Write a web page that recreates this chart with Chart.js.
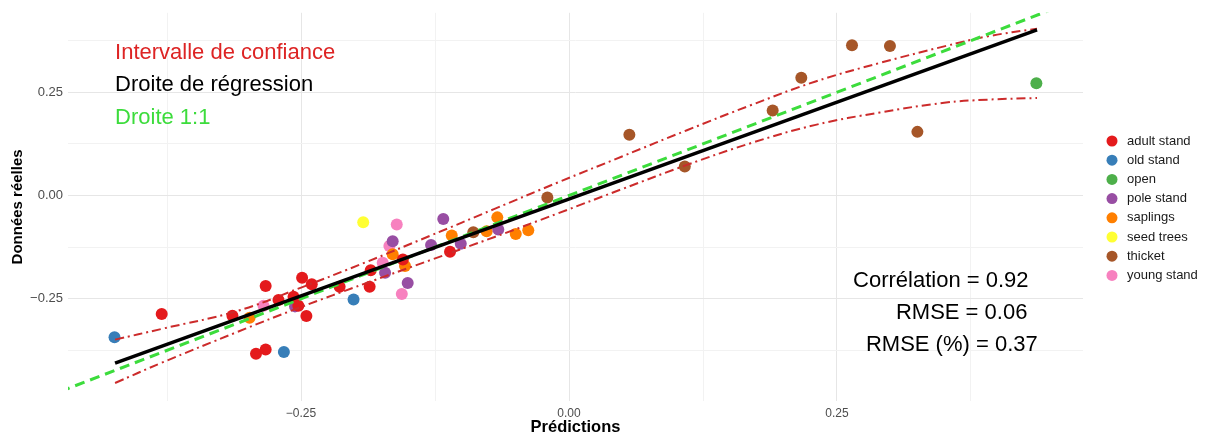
<!DOCTYPE html>
<html><head><meta charset="utf-8">
<script src="https://cdn.jsdelivr.net/npm/chart.js@4/dist/chart.umd.min.js"></script>
<style>html,body{margin:0;padding:0;background:#fff;}#wrap{width:1207px;height:438px;position:relative;}</style>
</head><body><div id="wrap"><canvas id="c"></canvas></div>
<script>
const categories = ['adult stand','old stand','open','pole stand','saplings','seed trees','thicket','young stand'];
const categoryColors = ['#E41A1C','#377EB8','#4DAF4A','#984EA3','#FF7F00','#FFFF33','#A65628','#F781BF'];

const adultPred = [-0.380,-0.314,-0.292,-0.283,-0.283,-0.271,-0.257,-0.2525,-0.245,-0.249,-0.240,-0.214,-0.186,-0.185,-0.155,-0.111];
const adultObs  = [-0.287,-0.291,-0.383,-0.373,-0.219,-0.253,-0.245,-0.267,-0.292,-0.199,-0.215,-0.221,-0.221,-0.181,-0.155,-0.136];
const oldPred = [-0.424,-0.266,-0.201];
const oldObs  = [-0.343,-0.379,-0.252];
const openPred = [0.436];
const openObs  = [0.272];
const polePred = [-0.2556,-0.1645,-0.1716,-0.1505,-0.1173,-0.1287,-0.101,-0.066];
const poleObs  = [-0.2685,-0.1106,-0.187,-0.212,-0.057,-0.120,-0.117,-0.0825];
const saplingsPred = [-0.298,-0.1645,-0.153,-0.1094,-0.0768,-0.0669,-0.0497,-0.038];
const saplingsObs  = [-0.296,-0.1425,-0.171,-0.097,-0.0865,-0.053,-0.093,-0.084];
const seedPred = [-0.192];
const seedObs  = [-0.065];
const thicketPred = [-0.0893,-0.0202,0.0563,0.108,0.190,0.2167,0.264,0.2994,0.325];
const thicketObs  = [-0.089,-0.0048,0.147,0.070,0.206,0.2853,0.364,0.362,0.154];
const youngPred = [-0.285,-0.1607,-0.1676,-0.1738,-0.156];
const youngObs  = [-0.267,-0.0704,-0.1226,-0.1627,-0.2387];

const regX = [-0.4235, 0.4366];
const regY = [-0.406, 0.401];
const oneToOne = [-0.6, 0.6];
const ciX = [-0.4235,-0.38,-0.31,-0.25,-0.19,-0.13,-0.07,-0.01,0.05,0.11,0.17,0.23,0.29,0.35,0.39,0.4366];
const ciUpperY = [-0.349,-0.323,-0.280,-0.223,-0.162,-0.098,-0.033,0.032,0.095,0.158,0.219,0.276,0.321,0.361,0.385,0.404];
const ciLowerY = [-0.454,-0.405,-0.331,-0.270,-0.213,-0.157,-0.101,-0.043,0.016,0.074,0.127,0.171,0.201,0.2245,0.232,0.236];

const xTicks = [-0.375,-0.25,-0.125,0,0.125,0.25,0.375];
const xTickLabels = ['','\u22120.25','','0.00','','0.25',''];
const yTicks = [-0.375,-0.25,-0.125,0,0.125,0.25,0.375];
const yTickLabels = ['','\u22120.25','','0.00','','0.25',''];

const legendTexts = ['Intervalle de confiance','Droite de régression','Droite 1:1'];
const statTexts = ['Corrélation = 0.92','RMSE = 0.06','RMSE (%) = 0.37'];

const seriesPred = [adultPred, oldPred, openPred, polePred, saplingsPred, seedPred, thicketPred, youngPred];
const seriesObs = [adultObs, oldObs, openObs, poleObs, saplingsObs, seedObs, thicketObs, youngObs];

const zip = (xs, ys) => xs.map((x, i) => ({x: x, y: ys[i]}));

const CI_COLOR = '#CC2B2B';
const GREEN = '#3CDC3C';

const datasets = [
  {label:'reg', data: zip(regX, regY), showLine:true, borderColor:'#000', borderWidth:3.5, pointRadius:0, order:0, clip:0},
  {label:'1:1', data: zip(oneToOne, oneToOne), showLine:true, borderColor:GREEN, borderWidth:3, borderDash:[10,6], pointRadius:0, order:0, clip:0},
  {label:'ciU', data: zip(ciX, ciUpperY), showLine:true, borderColor:CI_COLOR, borderWidth:2, borderDash:[9,4,2,4], pointRadius:0, tension:0.4, order:0, clip:0},
  {label:'ciL', data: zip(ciX, ciLowerY), showLine:true, borderColor:CI_COLOR, borderWidth:2, borderDash:[9,4,2,4], pointRadius:0, tension:0.4, order:0, clip:0}
];
categories.forEach((c, i) => {
  datasets.push({label:c, data: zip(seriesPred[i], seriesObs[i]), backgroundColor: categoryColors[i], borderWidth:0, pointRadius:6, order:1});
});

const gridColor = (ctx) => {
  const v = ctx.tick ? ctx.tick.value : 0;
  return Math.abs(Math.round(v / 0.25) * 0.25 - v) < 1e-9 ? '#E6E6E6' : '#F2F2F2';
};

const annotPlugin = {
  id: 'annot',
  afterDraw(chart) {
    const ctx = chart.ctx;
    const xs = chart.scales.x, ys = chart.scales.y;
    ctx.save();
    ctx.textBaseline = 'middle';
    ctx.textAlign = 'left';
    ctx.font = '22px "Liberation Sans", Arial, sans-serif';
    const lc = ['#DD2424', '#000000', GREEN];
    const ly = [0.346, 0.267, 0.188];
    legendTexts.forEach((t, i) => {
      ctx.fillStyle = lc[i];
      ctx.fillText(t, xs.getPixelForValue(-0.4235), ys.getPixelForValue(ly[i]));
    });
    const sx = [0.265, 0.305, 0.277];
    const sy = [-0.2067, -0.2837, -0.363];
    ctx.fillStyle = '#000';
    statTexts.forEach((t, i) => {
      ctx.fillText(t, xs.getPixelForValue(sx[i]), ys.getPixelForValue(sy[i]));
    });
    ctx.font = '13px "Liberation Sans", Arial, sans-serif';
    categories.forEach((c, i) => {
      const y = 141 + i * 19.2;
      ctx.beginPath();
      ctx.arc(1112, y, 5.5, 0, Math.PI * 2);
      ctx.fillStyle = categoryColors[i];
      ctx.fill();
      ctx.fillStyle = '#1A1A1A';
      ctx.fillText(c, 1127, y);
    });
    ctx.restore();
  }
};

new Chart(document.getElementById('c'), {
  type: 'scatter',
  data: {datasets: datasets},
  options: {
    responsive: true,
    maintainAspectRatio: false,
    animation: false,
    devicePixelRatio: 1,
    events: [],
    layout: {padding: {left: 0, right: 124, top: 10, bottom: 0}},
    plugins: {legend: {display: false}, tooltip: {enabled: false}},
    scales: {
      x: {
        type: 'linear', min: -0.4674, max: 0.4795,
        afterBuildTicks: (s) => { s.ticks = xTicks.map(v => ({value: v})); },
        afterFit: (s) => { s.height = 37; },
        border: {display: false},
        grid: {color: gridColor, drawTicks: false, lineWidth: 1},
        ticks: {autoSkip: false, maxRotation: 0, padding: 5, color: '#4D4D4D',
          font: {family: '"Liberation Sans", Arial, sans-serif', size: 12},
          callback: (v, i) => xTickLabels[i]},
        title: {display: true, text: 'Prédictions', color: '#000', padding: {top: 0, bottom: 1},
          font: {family: '"Liberation Sans", Arial, sans-serif', size: 16.5, weight: 'bold'}}
      },
      y: {
        type: 'linear', min: -0.4976, max: 0.4423,
        afterBuildTicks: (s) => { s.ticks = yTicks.map(v => ({value: v})); },
        afterFit: (s) => { s.width = 68; },
        border: {display: false},
        grid: {color: gridColor, drawTicks: false, lineWidth: 1},
        ticks: {autoSkip: false, padding: 5, color: '#4D4D4D',
          font: {family: '"Liberation Sans", Arial, sans-serif', size: 13},
          callback: (v, i) => yTickLabels[i]},
        title: {display: true, text: 'Données réelles', color: '#000', padding: {top: 9, bottom: 0},
          font: {family: '"Liberation Sans", Arial, sans-serif', size: 15, weight: 'bold'}}
      }
    }
  },
  plugins: [annotPlugin]
});
</script></body></html>
